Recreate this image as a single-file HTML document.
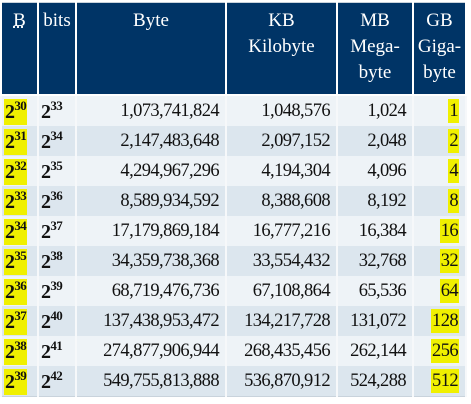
<!DOCTYPE html>
<html><head><meta charset="utf-8"><style>
body{margin:0;background:#fff;width:471px;height:404px;overflow:hidden}
table{position:absolute;left:0;top:2px;border-collapse:collapse;font-family:"Liberation Serif",serif;font-size:18.5px;letter-spacing:-0.6px;color:#111;border:1px solid #c9d3dc}
th{background:#003466;color:#fff;font-weight:normal;font-size:19px;letter-spacing:0;height:86px;vertical-align:top;padding:5px 1px 0;line-height:26px;border:2px solid #fff;border-top:0}
td{height:30px;padding:0 6px 0 3px;text-align:right;border-left:2px solid #f6f8fa;border-right:2px solid #f6f8fa;white-space:nowrap}
tr.o td{background:#eef3f7}tr.e td{background:#dce6ee}
td.b,td.x{text-align:left;font-weight:bold;padding:0 2px;font-size:20px}
sup{font-size:13px;vertical-align:8px}
.hl{background:#f0f000;padding:2px 1px}
</style></head><body>
<table>
<thead><tr>
<th style="width:33px"><span style="text-decoration:underline dotted">B</span></th>
<th style="width:34px">bits</th>
<th style="width:146px">Byte</th>
<th style="width:107px">KB<br>Kilobyte</th>
<th style="width:72px">MB<br>Mega-<br>byte</th>
<th style="width:49px">GB<br>Giga-<br>byte</th>
</tr></thead>
<tbody id="tb"></tbody></table>
<script>
const bExp=[30,31,32,33,34,35,36,37,38,39];
const byteVals=["1,073,741,824","2,147,483,648","4,294,967,296","8,589,934,592","17,179,869,184","34,359,738,368","68,719,476,736","137,438,953,472","274,877,906,944","549,755,813,888"];
const kbVals=["1,048,576","2,097,152","4,194,304","8,388,608","16,777,216","33,554,432","67,108,864","134,217,728","268,435,456","536,870,912"];
const mbVals=["1,024","2,048","4,096","8,192","16,384","32,768","65,536","131,072","262,144","524,288"];
const gbVals=["1","2","4","8","16","32","64","128","256","512"];
const tb=document.getElementById('tb');
bExp.forEach((e,i)=>{
const tr=document.createElement('tr');
tr.className=i%2?'e':'o';


tr.innerHTML='<td class="b"><span class="hl">2<sup>'+e+'</sup></span></td>'+
'<td class="x">2<sup>'+(e+3)+'</sup></td>'+
'<td>'+byteVals[i]+'</td>'+
'<td>'+kbVals[i]+'</td>'+
'<td>'+mbVals[i]+'</td>'+
'<td><span class="hl">'+gbVals[i]+'</span></td>';
tb.appendChild(tr);
});
</script>
</body></html>
